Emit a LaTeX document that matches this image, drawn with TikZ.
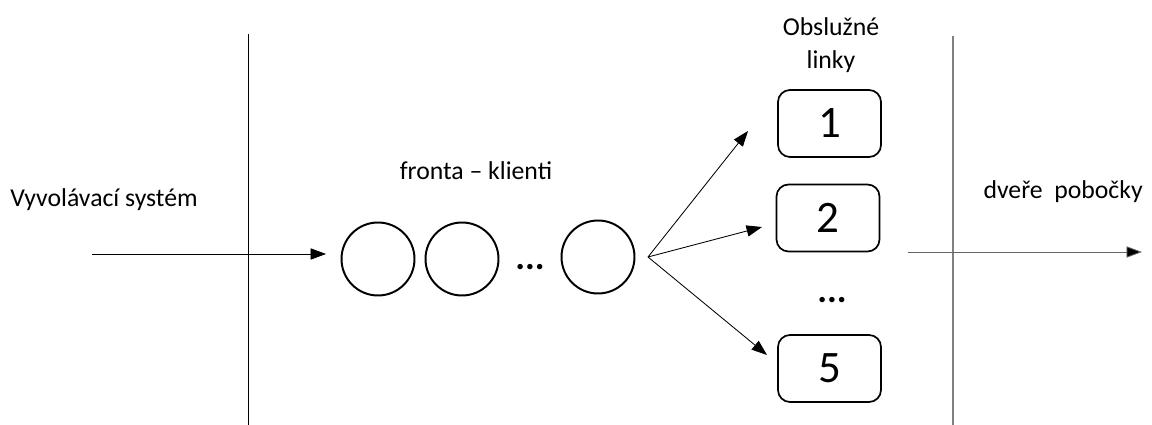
\documentclass[tikz,border=0pt]{standalone}
\usepackage{fontspec}
\setmainfont{Carlito}
\usetikzlibrary{arrows.meta}
\begin{document}
\begin{tikzpicture}[x=0.025cm,y=-0.025cm,
  lbl/.style={font=\fontsize{18.3}{23.5}\selectfont, inner sep=0pt},
  cust/.style={draw, line width=1.4pt, circle, inner sep=0pt},
  dots/.style={font=\fontsize{26}{28}\selectfont\bfseries, inner sep=0pt},
  desk/.style={draw, line width=1.2pt, rounded corners=12*0.025cm, minimum width=103*0.025cm, minimum height=67*0.025cm, inner sep=0pt, font=\fontsize{32}{34}\selectfont},
  arr/.style={line width=0.6pt, -{Triangle[length=11pt,width=8pt]}},
  wall/.style={line width=0.8pt}]
\useasboundingbox (0,0) rectangle (1152,425);
% walls
\coordinate (w1t) at (248.7,34);
\coordinate (w1b) at (248.7,425);
\coordinate (w2t) at (953,36);
\coordinate (w2b) at (953,425);
\draw[wall] (w1t) -- (w1b);
\draw[wall, draw=gray] (w2t) -- (w2b);
% labels
\node[lbl, anchor=west] (sys) at (10,200) {Vyvolávací systém};
\node[lbl] (fr) at (476,171) {fronta – klienti};
\node[lbl, align=center] (obs) at (831,45) {Obslužné\\linky};
\node[lbl, anchor=east] (dv) at (1143,192) {dveře\ \ pobočky};
% customers
\node[cust, minimum size=73*0.025cm] (c1) at (378,259) {};
\node[cust, minimum size=73*0.025cm] (c2) at (462,259) {};
\node[cust, minimum size=73*0.025cm] (c3) at (598,257) {};
\node[dots] (qd) at (530,267) {...};
\node[dots] (dd) at (832,300) {...};
% desks
\node[desk] (d1) at (829.5,123.5) {1};
\node[desk] (d2) at (828,218) {2};
\node[desk] (d5) at (829.5,368.5) {5};
% arrows
\coordinate (in0) at (92,254);
\coordinate (in1) at (326,254);
\draw[arr] (in0) -- (in1);
\coordinate (fan) at (648,257);
\coordinate (t1) at (748,131);
\coordinate (t2) at (762,227);
\coordinate (t5) at (767,355);
\draw[arr] (fan) -- (t1);
\draw[arr] (fan) -- (t2);
\draw[arr] (fan) -- (t5);
\coordinate (out0) at (908,252);
\coordinate (out1) at (1142,252);
\draw[arr, draw=gray!80!black, -{Triangle[length=11pt,width=8pt,fill=black]}] (out0) -- (out1);
\end{tikzpicture}
\end{document}
